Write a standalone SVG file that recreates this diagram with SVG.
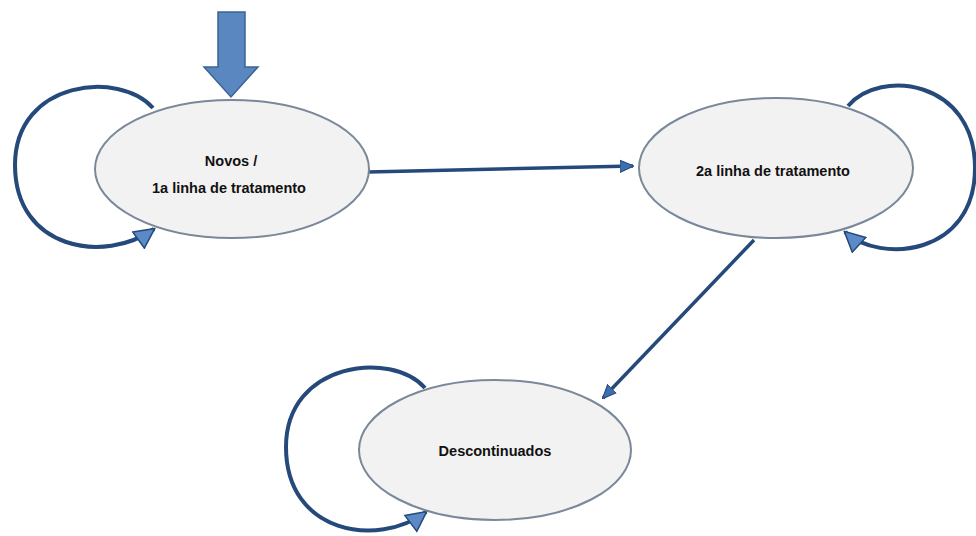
<svg xmlns="http://www.w3.org/2000/svg" width="976" height="536" viewBox="0 0 976 536">
<style>
.node{fill:#f2f2f2;stroke:#7a8899;stroke-width:2}
.lbl{font-family:"Liberation Sans",Arial,sans-serif;font-weight:bold;font-size:14.5px;fill:#111;text-anchor:middle}
.edge{fill:none;stroke:#24497a;stroke-width:3.5}
.loop{fill:none;stroke:#24497a;stroke-width:4}
</style>
<defs>
<marker id="sm" markerUnits="userSpaceOnUse" viewBox="0 0 14 14" refX="13" refY="7" markerWidth="14" markerHeight="14" orient="auto">
<path d="M0,1 L14,7 L0,13 Z" fill="#3d6eb0" stroke="#24497a" stroke-width="1"/>
</marker>
<marker id="lg" markerUnits="userSpaceOnUse" viewBox="0 0 22 22" refX="20" refY="11" markerWidth="22" markerHeight="22" orient="auto">
<path d="M1,1 L21,11 L1,21 Z" fill="#5b8ac6" stroke="#24497a" stroke-width="1.5"/>
</marker>
</defs>
<g id="entry">
<path d="M218,12 L245,12 L245,67 L258,67 L231,97 L204,67 L218,67 Z" fill="#5b87c0" stroke="#3a6497" stroke-width="1.5"/>
</g>
<g id="connectors">
<path class="edge" d="M368,172 L633,166" marker-end="url(#sm)"/>
<path class="edge" d="M754,240 L603,398" marker-end="url(#sm)"/>
<path class="loop" d="M153,108 C120,70 15,80 15,165 C15,250 105,264 154,229" marker-end="url(#lg)"/>
<path class="loop" d="M848,106 C880,68 975,80 975,168 C975,256 880,264 845,232" marker-end="url(#lg)"/>
<path class="loop" d="M425,388 C392,350 286,362 286,447 C286,534 378,548 426,512" marker-end="url(#lg)"/>
</g>
<g id="novos">
<ellipse class="node" cx="232" cy="169" rx="137" ry="69"/>
<text class="lbl" x="231" y="166">Novos /</text>
<text class="lbl" x="229" y="193">1a linha de tratamento</text>
</g>
<g id="segunda">
<ellipse class="node" cx="776" cy="168" rx="137" ry="70"/>
<text class="lbl" x="773" y="176">2a linha de tratamento</text>
</g>
<g id="descontinuados">
<ellipse class="node" cx="495" cy="450" rx="136" ry="70"/>
<text class="lbl" x="495" y="456">Descontinuados</text>
</g>
</svg>
